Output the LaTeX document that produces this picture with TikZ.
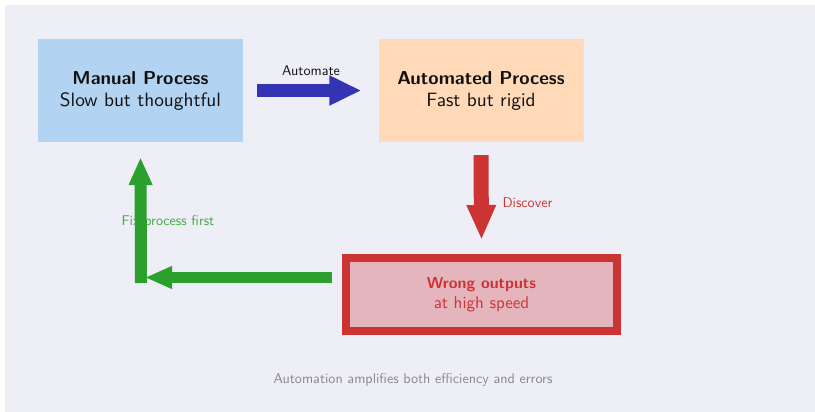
\documentclass[tikz,border=0pt]{standalone}
\usepackage{fontspec}
\usetikzlibrary{arrows.meta}
% one design size of Latin Modern Sans, scaled freely
\setsansfont{lmsans10-regular.otf}[BoldFont=lmsans10-bold.otf]
\renewcommand{\familydefault}{\sfdefault}

\definecolor{bgpanel}{RGB}{238,238,247}
\definecolor{manualfill}{RGB}{179,211,242}
\definecolor{autofill}{RGB}{255,217,184}
\definecolor{wrongfill}{RGB}{229,181,190}
\definecolor{alertred}{RGB}{204,51,51}
\definecolor{autoblue}{RGB}{51,51,179}
\definecolor{fixgreen}{RGB}{44,160,44}
\definecolor{inktext}{RGB}{17,17,17}
\definecolor{notegray}{RGB}{136,136,136}

\newcommand{\stagetitle}[1]{{\fontsize{18.7}{22}\selectfont\bfseries #1}}
\newcommand{\alerttitle}[1]{{\fontsize{15.9}{19.5}\selectfont\bfseries #1}}

\tikzset{
  bigtext/.style={font=\fontsize{19.3}{22}\selectfont},
  smalltext/.style={font=\fontsize{14.1}{16}\selectfont},
  stagebox/.style={minimum width=205pt, minimum height=103pt, align=center,
    inner sep=0pt, text=inktext, bigtext},
}

\begin{document}
\begin{tikzpicture}[x=1pt,y=-1pt]
  % page and panel
  \useasboundingbox (0,0) rectangle (815,412);
  \fill[white] (0,0) rectangle (815,412);
  \fill[bgpanel] (5,5) rectangle (815,412);

  % stages
  \node[stagebox, fill=manualfill] (manual) at (140.5,90.5)
    {\stagetitle{Manual Process}\\Slow but thoughtful};
  \node[stagebox, fill=autofill] (auto) at (481,90.5)
    {\stagetitle{Automated Process}\\Fast but rigid};
  \node[draw=alertred, line width=8pt, fill=wrongfill, minimum width=271pt,
        minimum height=73pt, align=center, inner sep=0pt, text=alertred,
        font=\fontsize{17}{19.5}\selectfont] (wrong) at (481.5,294.5)
    {\alerttitle{Wrong outputs}\\at high speed};

  % labels
  \node[smalltext, text=inktext] (lblauto) at (311,71) {Automate};
  \node[smalltext, text=alertred, anchor=west] (lbldisc) at (499,203) {Discover};
  \node[smalltext, text=fixgreen!90!white] (lblfix) at (168,222) {Fix process first};
  \node[smalltext, text=notegray] (note) at (413,380)
    {Automation amplifies both efficiency and errors};

  % connectors
  \draw[autoblue, line width=13pt, -{Triangle[length=32pt,width=28pt]}]
    ([xshift=14pt]manual.east) -- ([xshift=-17pt]auto.west);
  \draw[alertred, line width=15pt, -{Triangle[length=35pt,width=27pt]}]
    ([yshift=-13pt]auto.south) -- ([yshift=14pt]wrong.north);

  \coordinate (corner) at (141,277.5);
  \draw[fixgreen, line width=12pt, -{Triangle[length=28pt,width=22pt]}]
    ([yshift=-5.5pt]corner) -- ([yshift=-15pt]manual.south);
  \draw[fixgreen, line width=11pt, -{Triangle[length=27pt,width=21pt]}]
    ([xshift=-10pt,yshift=17pt]wrong.west) -- ([xshift=4pt]corner);
\end{tikzpicture}
\end{document}
